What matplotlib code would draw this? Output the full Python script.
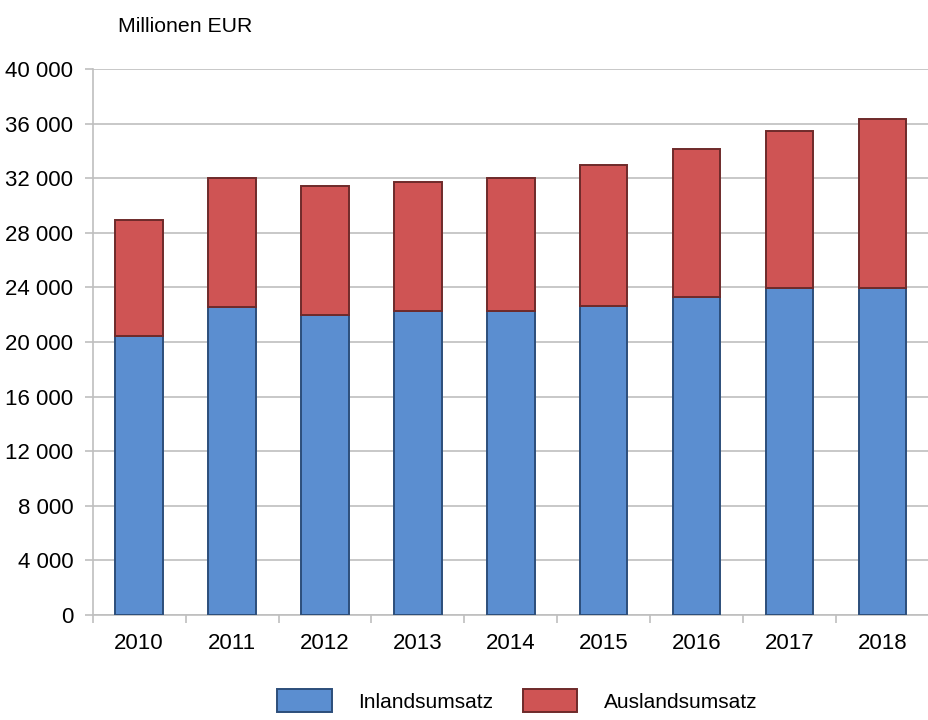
import numpy as np
import matplotlib.pyplot as plt
from matplotlib.ticker import FuncFormatter

plt.rcParams['font.family'] = ['Liberation Sans', 'DejaVu Sans']

years = ["2010", "2011", "2012", "2013", "2014", "2015", "2016", "2017", "2018"]
inland = [20450, 22600, 21980, 22250, 22250, 22630, 23320, 23930, 23930]
total = [28940, 32000, 31420, 31710, 32000, 32980, 34120, 35490, 36340]
ausland = [t - i for t, i in zip(total, inland)]

blue = "#5B8ED0"
red = "#CF5454"

fig = plt.figure(figsize=(9.29, 7.2), dpi=100)
ax = fig.add_axes([0.0998, 0.146, 0.9002, 0.758])

x = np.arange(len(years))
w = 0.51
ax.bar(x, inland, w, color=blue, edgecolor="#2C4E7A", linewidth=1.4,
       label="Inlandsumsatz", zorder=3)
ax.bar(x, ausland, w, bottom=inland, color=red, edgecolor="#6E2A2A",
       linewidth=1.4, label="Auslandsumsatz", zorder=3)

ax.set_ylim(0, 40000)
ax.set_xlim(-0.5, 8.43)
ax.set_yticks(np.arange(0, 40001, 4000))
ax.yaxis.set_major_formatter(FuncFormatter(lambda v, p: "{:,.0f}".format(v).replace(",", " ")))
ax.set_xticks(x)
ax.set_xticklabels(years)
ax.set_xticks(np.arange(-0.5, 9, 1), minor=True)

ax.yaxis.grid(True, color="#BFBFBF", linewidth=1.2, zorder=0)
for s in ["top", "right"]:
    ax.spines[s].set_visible(False)
for s in ["left", "bottom"]:
    ax.spines[s].set_color("#BFBFBF")
    ax.spines[s].set_linewidth(1.2)

ax.tick_params(axis="y", length=6, width=1.2, color="#BFBFBF", labelsize=16, pad=8)
ax.tick_params(axis="x", which="major", length=0, labelsize=16, pad=13)
ax.tick_params(axis="x", which="minor", length=6, width=1.2, color="#BFBFBF")

fig.text(0.127, 0.963, "Millionen EUR", fontsize=15.3, va="center")

fig.legend(loc="center", bbox_to_anchor=(0.557, 0.027), ncol=2, frameon=False,
           fontsize=15, handlelength=2.6, handleheight=1.3, handletextpad=1.3,
           columnspacing=1.4)

fig.savefig("out.png", dpi=100)
